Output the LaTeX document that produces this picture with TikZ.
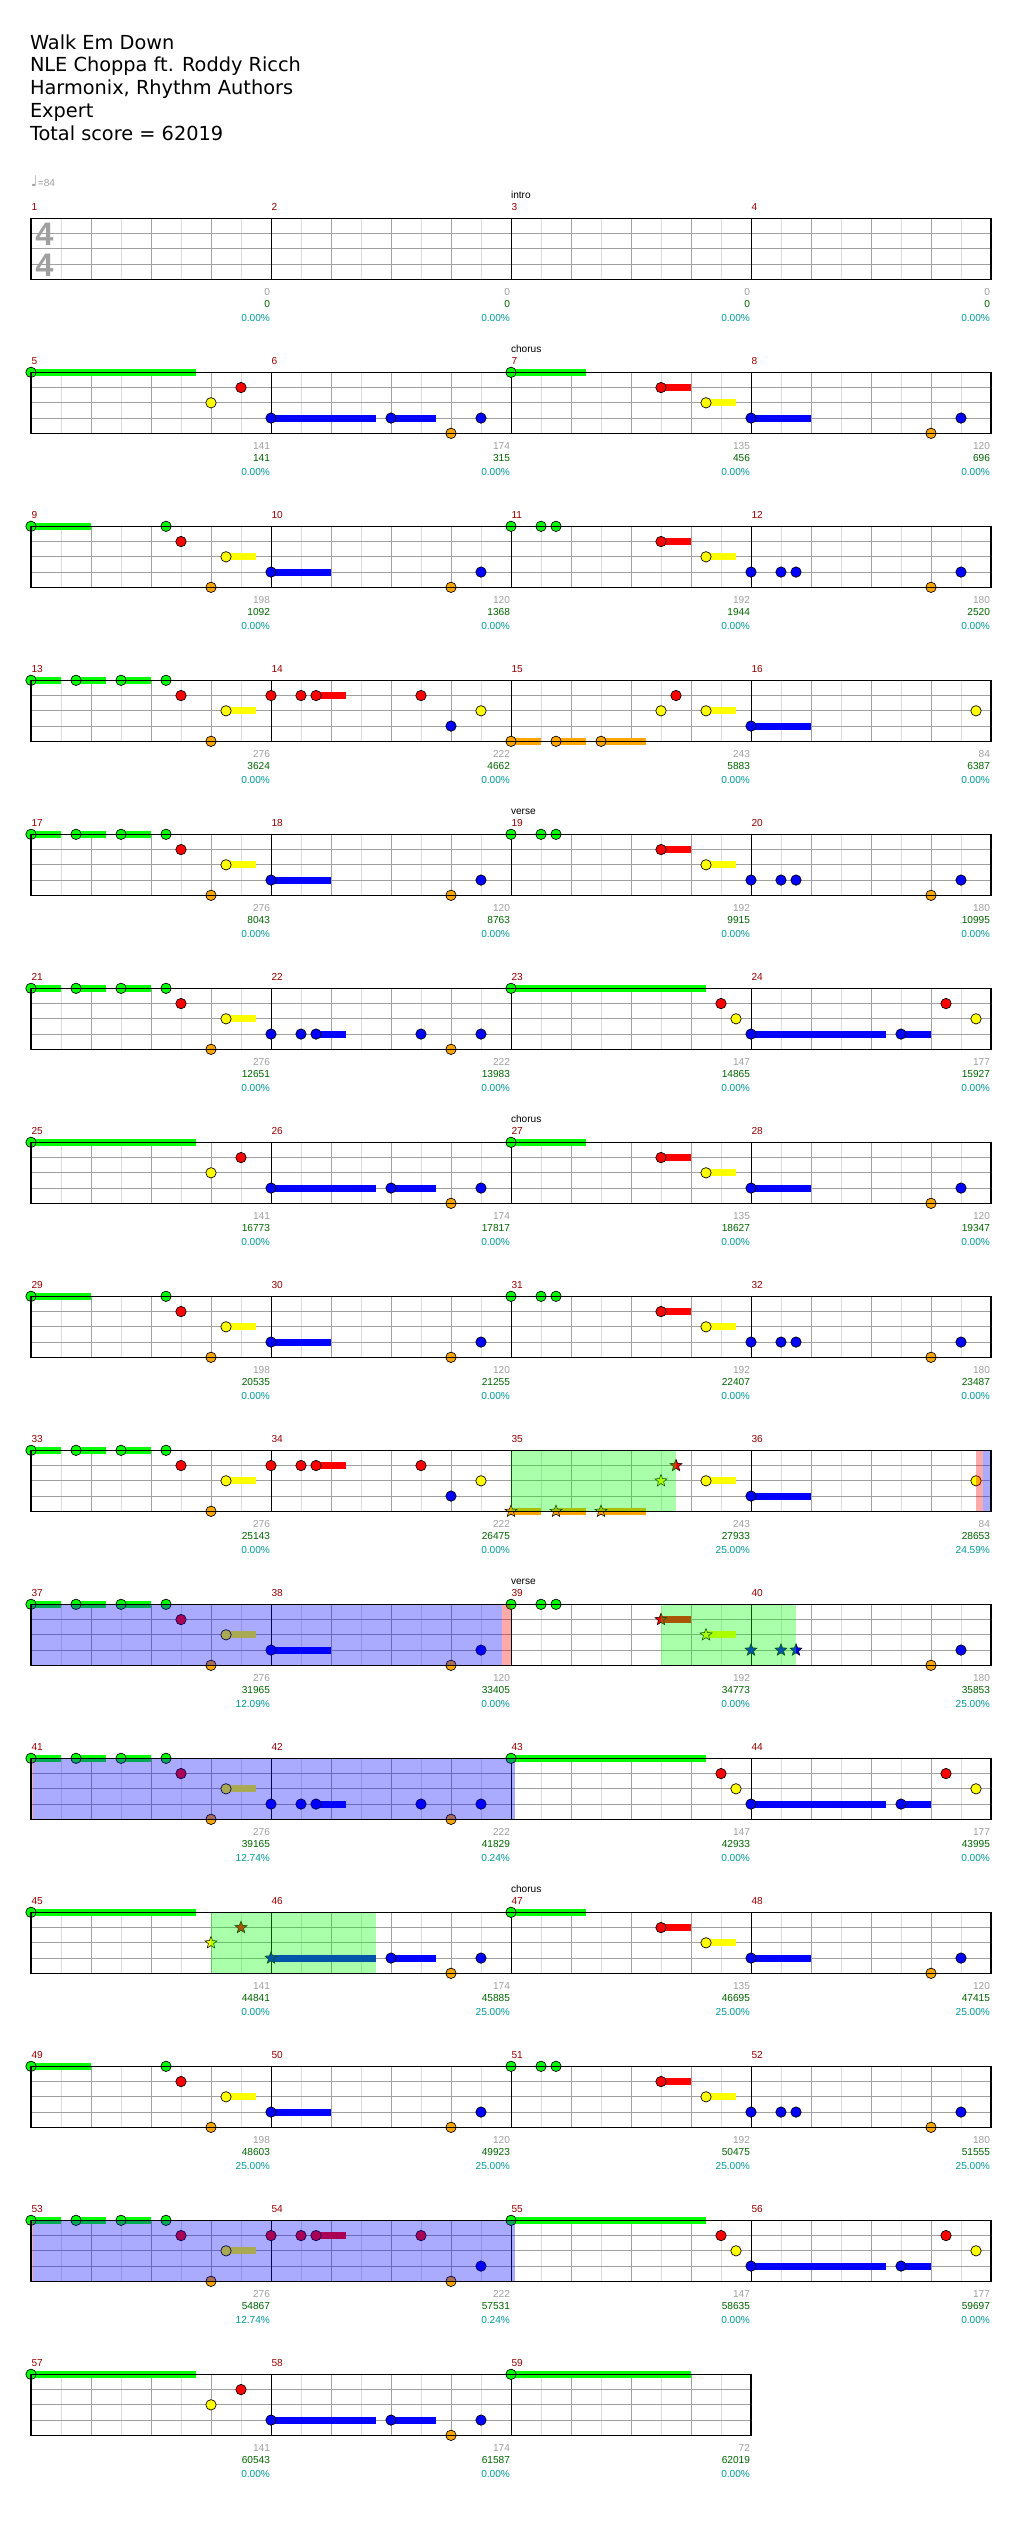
\documentclass[tikz,border=0pt]{standalone}
\usepackage{fontspec}
\setmainfont{Liberation Sans}
\newfontfamily\dejavu{DejaVu Sans}
\usetikzlibrary{shapes.geometric}
\definecolor{l0}{HTML}{00FF00}
\definecolor{l1}{HTML}{FF0000}
\definecolor{l2}{HTML}{FFFF00}
\definecolor{l3}{HTML}{0000FF}
\definecolor{l4}{HTML}{FFA500}
\definecolor{cgray}{HTML}{A0A0A0}
\definecolor{clight}{HTML}{DCDCDC}
\definecolor{cnum}{HTML}{006400}
\definecolor{cpct}{HTML}{009999}
\definecolor{cmeas}{HTML}{990000}
\newcounter{nc}
\newcommand\nx{\stepcounter{nc}}
\tikzset{
 every node/.style={inner sep=0pt, outer sep=0pt},
 small/.style={font=\fontsize{7.6pt}{9pt}\selectfont},
 fg/.style={small, text=cgray, anchor=base east},
 fn/.style={small, text=cnum, anchor=base east},
 fp/.style={small, text=cpct, anchor=base east},
 mnum/.style={small, text=cmeas, anchor=base west},
 sect/.style={small, text=black, anchor=base west},
 titletext/.style={font=\dejavu\fontsize{14.5pt}{17pt}\selectfont, anchor=base west},
 tsig/.style={font=\bfseries\fontsize{24.4pt}{26pt}\selectfont, text=cgray, anchor=base},
 gl/.style={draw=clight, line width=0.75pt},
 gq/.style={draw=cgray, line width=0.75pt},
 gm/.style={draw=black, line width=0.75pt},
 starnote/.style={star, star points=5, star point ratio=2.3, minimum size=9.5pt, inner sep=0pt, draw=black, line width=0.4pt},
 sus/.style={line width=5.25pt},
}
\newcommand\grid[1]{%
 \pgfmathtruncatemacro\nq{4*#1-1}%
 \foreach \j in {0,...,\nq}{\draw[gl] ({60*\j+30},0) -- ({60*\j+30},61);}%
 \foreach \j in {1,...,\nq}{\draw[gq] ({60*\j},0) -- ({60*\j},61);}%
 \foreach \j in {1,2,3}{\draw[gq] (0,{15.25*\j}) -- ({240*#1},{15.25*\j});}%
 \pgfmathtruncatemacro\nm{#1-1}%
 \foreach \j in {1,...,\nm}{\draw[gm] ({240*\j},0) -- ({240*\j},61);}%
}
\newcommand\border[1]{\draw[line width=1pt] (0,0) rectangle ({240*#1},61);}
\newcommand\mnums[2]{%
 \pgfmathtruncatemacro\nm{#2-1}%
 \foreach \j in {0,...,\nm}{\pgfmathtruncatemacro\mm{#1+\j}\nx\node[mnum] (nd\thenc) at ({240*\j+0.5},-8) {\mm};}}
\newcommand\sect[1]{\nx\node[sect] (nd\thenc) at (480,-20) {#1};}
\newcommand\ft[4]{\nx\node[fg] (nd\thenc) at ({240*#1-1},76.7) {#2};\nx\node[fn] (nd\thenc) at ({240*#1-1},89.4) {#3};\nx\node[fp] (nd\thenc) at ({240*#1-1},103) {#4};}
\newcommand\noteC[2]{\fill[l#1, draw=black, line width=0.5pt] ({15*#2},{15.25*#1}) circle[radius=3.9pt];}
\newcommand\noteS[3]{\draw[l#1, sus] ({15*#2},{15.25*#1}) -- ({15*#3},{15.25*#1});\noteC{#1}{#2}}
\newcommand\starN[2]{\nx\node[starnote, fill=l#1] (nd\thenc) at ({15*#2},{15.25*#1}) {};}
\newcommand\starS[3]{\draw[l#1, sus] ({15*#2},{15.25*#1}) -- ({15*#3},{15.25*#1});\starN{#1}{#2}}
\newcommand\ovl[3]{\fill[#1, opacity=0.3333] ({15*#2},0) rectangle ({15*#3},61);}
% patterns
\newcommand\patAone{\noteS0{0}{11}\noteC1{14}\noteC2{12}\noteS3{16}{23}\noteS3{24}{27}\noteC3{30}\noteC4{28}}
\newcommand\patAtwo{\noteS0{32}{37}\noteS1{42}{44}\noteS2{45}{47}\noteS3{48}{52}\noteC4{60}\noteC3{62}}
\newcommand\patBone{\noteS0{0}{4}\noteC0{9}\noteC1{10}\noteC4{12}\noteS2{13}{15}\noteS3{16}{20}\noteC4{28}\noteC3{30}}
\newcommand\patBhalf{\noteS3{16}{20}\noteC4{28}\noteC3{30}}
\newcommand\patBtwo{\noteC0{32}\noteC0{34}\noteC0{35}\noteS1{42}{44}\noteS2{45}{47}\noteC3{48}\noteC3{50}\noteC3{51}\noteC4{60}\noteC3{62}}
\newcommand\Gfour{\noteS0{0}{2}\noteS0{3}{5}\noteS0{6}{8}\noteC0{9}\noteC1{10}\noteC4{12}\noteS2{13}{15}}
\newcommand\patCone{\noteC3{16}\noteC3{18}\noteS3{19}{21}\noteC3{26}\noteC4{28}\noteC3{30}}
\newcommand\patCtwo{\noteS0{32}{45}\noteC1{46}\noteC2{47}\noteS3{48}{57}\noteS3{58}{60}\noteC1{61}\noteC2{63}}
\newcommand\patDone{\noteC1{16}\noteC1{18}\noteS1{19}{21}\noteC1{26}}
\begin{document}
\begin{tikzpicture}[x=0.75pt, y=-0.75pt]
\useasboundingbox[fill=white] (0,0) rectangle (1024,2528);
\node[titletext] (t1) at (30,49) {Walk Em Down};
\node[titletext] (t2) at (30,71.7) {NLE Choppa ft. Roddy Ricch};
\node[titletext] (t3) at (30,94.7) {Harmonix, Rhythm Authors};
\node[titletext] (t4) at (30,117.7) {Expert};
\node[titletext] (t5) at (30,140) {Total score = 62019};
\node[small, text=cgray, anchor=base west] (tempo) at (31,186) {{\dejavu\fontsize{11pt}{11pt}\selectfont ♩}=84};
% row 1
\begin{scope}[shift={(31,218.3)}]
\grid{4}\mnums{1}{4}\sect{intro}
\node[tsig] (ts1) at (13.5,26.7) {4};
\node[tsig] (ts2) at (13.5,57.7) {4};
\border{4}
\ft{1}{0}{0}{0.00\%}\ft{2}{0}{0}{0.00\%}\ft{3}{0}{0}{0.00\%}\ft{4}{0}{0}{0.00\%}
\end{scope}
% row 2
\begin{scope}[shift={(31,372.3)}]
\grid{4}\mnums{5}{4}\sect{chorus}
\patAone\patAtwo
\border{4}
\ft{1}{141}{141}{0.00\%}\ft{2}{174}{315}{0.00\%}\ft{3}{135}{456}{0.00\%}\ft{4}{120}{696}{0.00\%}
\end{scope}
% row 3
\begin{scope}[shift={(31,526.3)}]
\grid{4}\mnums{9}{4}
\patBone\patBtwo
\border{4}
\ft{1}{198}{1092}{0.00\%}\ft{2}{120}{1368}{0.00\%}\ft{3}{192}{1944}{0.00\%}\ft{4}{180}{2520}{0.00\%}
\end{scope}
% row 4
\begin{scope}[shift={(31,680.3)}]
\grid{4}\mnums{13}{4}
\Gfour\patDone\noteC3{28}\noteC2{30}
\noteS4{32}{34}\noteS4{35}{37}\noteS4{38}{41}\noteC2{42}\noteC1{43}\noteS2{45}{47}\noteS3{48}{52}\noteC2{63}
\border{4}
\ft{1}{276}{3624}{0.00\%}\ft{2}{222}{4662}{0.00\%}\ft{3}{243}{5883}{0.00\%}\ft{4}{84}{6387}{0.00\%}
\end{scope}
% row 5
\begin{scope}[shift={(31,834.3)}]
\grid{4}\mnums{17}{4}\sect{verse}
\Gfour\patBhalf\patBtwo
\border{4}
\ft{1}{276}{8043}{0.00\%}\ft{2}{120}{8763}{0.00\%}\ft{3}{192}{9915}{0.00\%}\ft{4}{180}{10995}{0.00\%}
\end{scope}
% row 6
\begin{scope}[shift={(31,988.3)}]
\grid{4}\mnums{21}{4}
\Gfour\patCone\patCtwo
\border{4}
\ft{1}{276}{12651}{0.00\%}\ft{2}{222}{13983}{0.00\%}\ft{3}{147}{14865}{0.00\%}\ft{4}{177}{15927}{0.00\%}
\end{scope}
% row 7
\begin{scope}[shift={(31,1142.3)}]
\grid{4}\mnums{25}{4}\sect{chorus}
\patAone\patAtwo
\border{4}
\ft{1}{141}{16773}{0.00\%}\ft{2}{174}{17817}{0.00\%}\ft{3}{135}{18627}{0.00\%}\ft{4}{120}{19347}{0.00\%}
\end{scope}
% row 8
\begin{scope}[shift={(31,1296.3)}]
\grid{4}\mnums{29}{4}
\patBone\patBtwo
\border{4}
\ft{1}{198}{20535}{0.00\%}\ft{2}{120}{21255}{0.00\%}\ft{3}{192}{22407}{0.00\%}\ft{4}{180}{23487}{0.00\%}
\end{scope}
% row 9
\begin{scope}[shift={(31,1450.3)}]
\grid{4}\mnums{33}{4}
\Gfour\patDone\noteC3{28}\noteC2{30}
\starS4{32}{34}\starS4{35}{37}\starS4{38}{41}\starN2{42}\starN1{43}\noteS2{45}{47}\noteS3{48}{52}\noteC2{63}
\ovl{l0}{32}{43}\ovl{l1}{63}{63.48}\ovl{l3}{63.48}{64}
\border{4}
\ft{1}{276}{25143}{0.00\%}\ft{2}{222}{26475}{0.00\%}\ft{3}{243}{27933}{25.00\%}\ft{4}{84}{28653}{24.59\%}
\end{scope}
% row 10
\begin{scope}[shift={(31,1604.3)}]
\grid{4}\mnums{37}{4}\sect{verse}
\Gfour\patBhalf
\noteC0{32}\noteC0{34}\noteC0{35}\starS1{42}{44}\starS2{45}{47}\starN3{48}\starN3{50}\starN3{51}\noteC4{60}\noteC3{62}
\ovl{l3}{0}{31.43}\ovl{l1}{31.43}{32}\ovl{l0}{42}{51}
\border{4}
\ft{1}{276}{31965}{12.09\%}\ft{2}{120}{33405}{0.00\%}\ft{3}{192}{34773}{0.00\%}\ft{4}{180}{35853}{25.00\%}
\end{scope}
% row 11
\begin{scope}[shift={(31,1758.3)}]
\grid{4}\mnums{41}{4}
\Gfour\patCone\patCtwo
\ovl{l1}{0}{0.13}\ovl{l3}{0.13}{32.26}
\border{4}
\ft{1}{276}{39165}{12.74\%}\ft{2}{222}{41829}{0.24\%}\ft{3}{147}{42933}{0.00\%}\ft{4}{177}{43995}{0.00\%}
\end{scope}
% row 12
\begin{scope}[shift={(31,1912.3)}]
\grid{4}\mnums{45}{4}\sect{chorus}
\noteS0{0}{11}\starN1{14}\starN2{12}\starS3{16}{23}\noteS3{24}{27}\noteC3{30}\noteC4{28}
\patAtwo
\ovl{l0}{12}{23}
\border{4}
\ft{1}{141}{44841}{0.00\%}\ft{2}{174}{45885}{25.00\%}\ft{3}{135}{46695}{25.00\%}\ft{4}{120}{47415}{25.00\%}
\end{scope}
% row 13
\begin{scope}[shift={(31,2066.3)}]
\grid{4}\mnums{49}{4}
\patBone\patBtwo
\border{4}
\ft{1}{198}{48603}{25.00\%}\ft{2}{120}{49923}{25.00\%}\ft{3}{192}{50475}{25.00\%}\ft{4}{180}{51555}{25.00\%}
\end{scope}
% row 14
\begin{scope}[shift={(31,2220.3)}]
\grid{4}\mnums{53}{4}
\Gfour\patDone\noteC4{28}\noteC3{30}\patCtwo
\ovl{l1}{0}{0.13}\ovl{l3}{0.13}{32.26}
\border{4}
\ft{1}{276}{54867}{12.74\%}\ft{2}{222}{57531}{0.24\%}\ft{3}{147}{58635}{0.00\%}\ft{4}{177}{59697}{0.00\%}
\end{scope}
% row 15
\begin{scope}[shift={(31,2374.3)}]
\grid{3}\mnums{57}{3}
\patAone\noteS0{32}{44}
\border{3}
\ft{1}{141}{60543}{0.00\%}\ft{2}{174}{61587}{0.00\%}\ft{3}{72}{62019}{0.00\%}
\end{scope}
\end{tikzpicture}
\end{document}
